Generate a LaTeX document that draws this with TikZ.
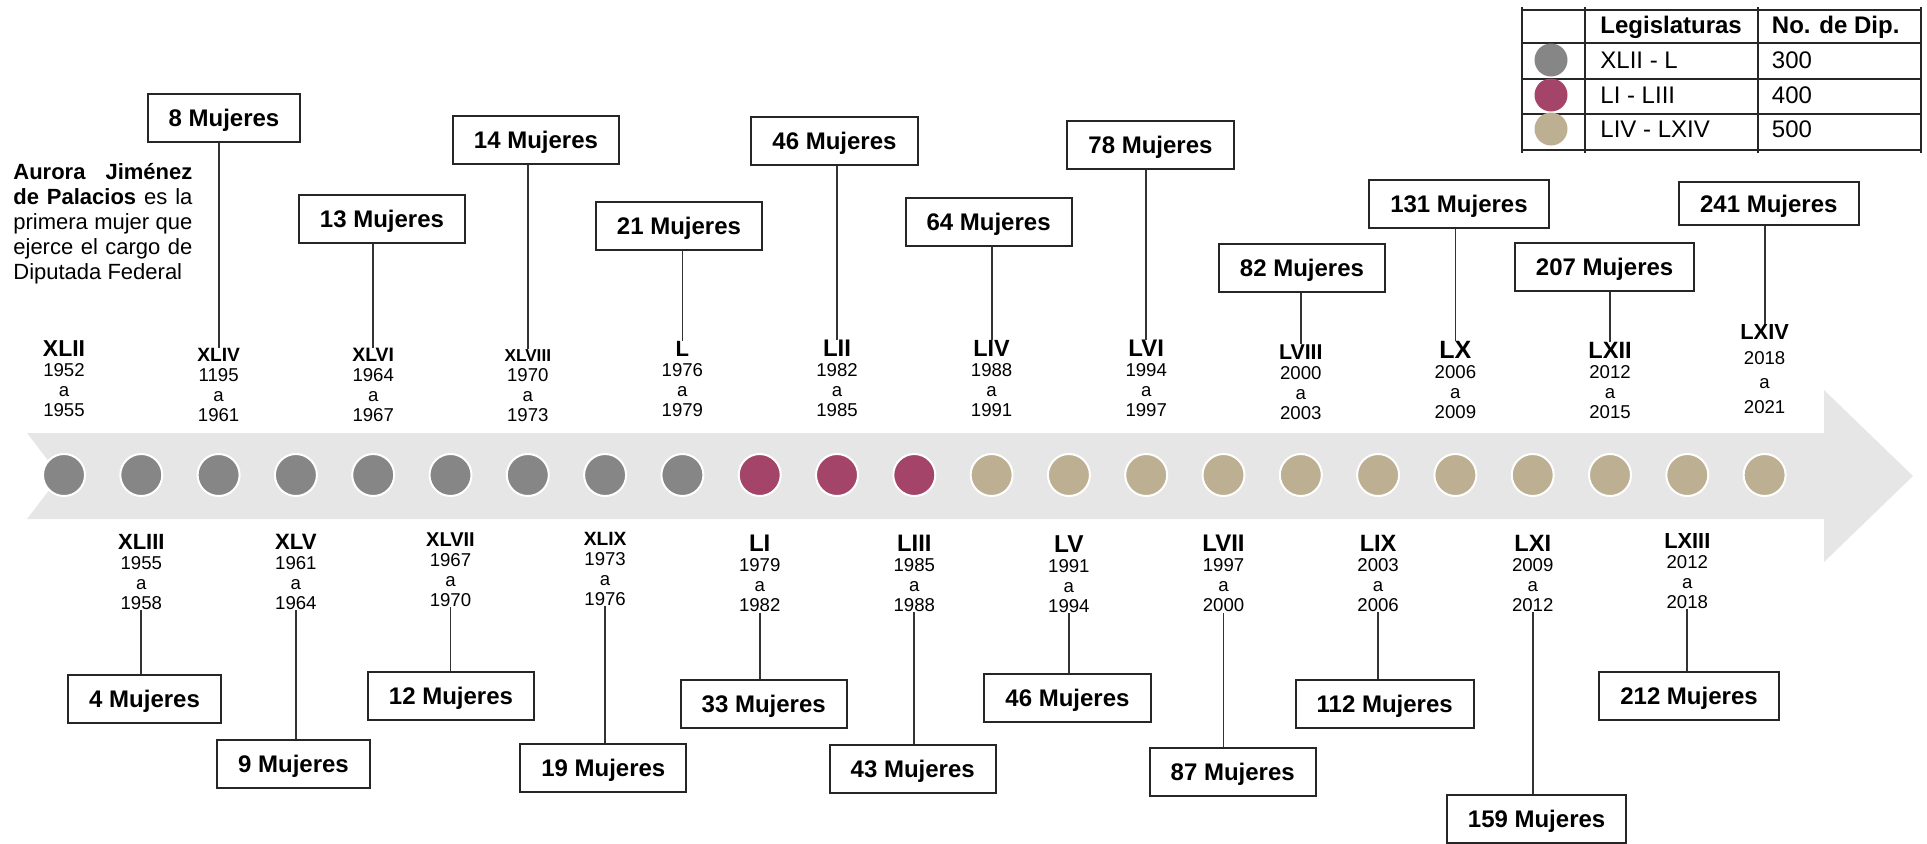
\documentclass[tikz,border=0pt]{standalone}
\usepackage{fontspec}
\setmainfont{Liberation Sans}
\usetikzlibrary{positioning}

\definecolor{bandgray}{HTML}{E6E6E6}
\definecolor{leggray}{HTML}{868686}
\definecolor{legmagenta}{HTML}{A34468}
\definecolor{legbeige}{HTML}{BCAF92}

\begin{document}
\begin{tikzpicture}[x=0.5pt, y=-0.5pt,
	legdot/.style={circle, draw=white, line width=1pt, minimum size=21pt, inner sep=0pt, outer sep=0pt},
	legyears/.style={align=center, inner sep=0pt, font=\fontsize{9.3}{10}\selectfont},
	mujeres/.style={rectangle, draw=black!85, line width=1pt, fill=white, minimum height=24pt, inner xsep=10.5pt, text height=8.6pt, text depth=0pt, font=\fontsize{12}{14}\selectfont\bfseries},
	legtext/.style={anchor=west, inner sep=0pt, text height=8.6pt, text depth=0pt, font=\fontsize{12}{14}\selectfont},
	legrule/.style={draw=black!85, line width=1pt},
	links/.style={draw=black!80, line width=0.9pt}]

		\useasboundingbox (0,0) rectangle (1927,843);

		% timeline band
		\fill[bandgray] (27,433) -- (1824,433) -- (1824,390) -- (1913,476) -- (1824,562) -- (1824,519) -- (27,519) -- (60,476) -- cycle;

		\node[legdot, fill=leggray] at (64,475) (c0) {};
		\node[legdot, fill=leggray, right=17.65pt of c0] (c1) {};
		\node[legdot, fill=leggray, right=17.65pt of c1] (c2) {};
		\node[legdot, fill=leggray, right=17.65pt of c2] (c3) {};
		\node[legdot, fill=leggray, right=17.65pt of c3] (c4) {};
		\node[legdot, fill=leggray, right=17.65pt of c4] (c5) {};
		\node[legdot, fill=leggray, right=17.65pt of c5] (c6) {};
		\node[legdot, fill=leggray, right=17.65pt of c6] (c7) {};
		\node[legdot, fill=leggray, right=17.65pt of c7] (c8) {};
		\node[legdot, fill=legmagenta, right=17.65pt of c8] (c9) {};
		\node[legdot, fill=legmagenta, right=17.65pt of c9] (c10) {};
		\node[legdot, fill=legmagenta, right=17.65pt of c10] (c11) {};
		\node[legdot, fill=legbeige, right=17.65pt of c11] (c12) {};
		\node[legdot, fill=legbeige, right=17.65pt of c12] (c13) {};
		\node[legdot, fill=legbeige, right=17.65pt of c13] (c14) {};
		\node[legdot, fill=legbeige, right=17.65pt of c14] (c15) {};
		\node[legdot, fill=legbeige, right=17.65pt of c15] (c16) {};
		\node[legdot, fill=legbeige, right=17.65pt of c16] (c17) {};
		\node[legdot, fill=legbeige, right=17.65pt of c17] (c18) {};
		\node[legdot, fill=legbeige, right=17.65pt of c18] (c19) {};
		\node[legdot, fill=legbeige, right=17.65pt of c19] (c20) {};
		\node[legdot, fill=legbeige, right=17.65pt of c20] (c21) {};
		\node[legdot, fill=legbeige, right=17.65pt of c21] (c22) {};

		% legislatures above the band
		\node[legyears, above=18.5pt of c0] (l0) {{\fontsize{11.5}{10}\selectfont\bfseries XLII}\\1952\\a\\1955};
		\node[legyears, above=16pt of c2] (l2) {{\fontsize{9.6}{10}\selectfont\bfseries XLIV}\\1195\\a\\1961};
		\node[legyears, above=16pt of c4] (l4) {{\fontsize{9.7}{10}\selectfont\bfseries XLVI}\\1964\\a\\1967};
		\node[legyears, above=16pt of c6] (l6) {{\fontsize{8.6}{10}\selectfont\bfseries XLVIII}\\1970\\a\\1973};
		\node[legyears, above=18.5pt of c8] (l8) {{\fontsize{11}{10}\selectfont\bfseries L}\\1976\\a\\1979};
		\node[legyears, above=18.5pt of c10] (l10) {{\fontsize{12}{10}\selectfont\bfseries LII}\\1982\\a\\1985};
		\node[legyears, above=18.5pt of c12] (l12) {{\fontsize{11.7}{10}\selectfont\bfseries LIV}\\1988\\a\\1991};
		\node[legyears, above=18.5pt of c14] (l14) {{\fontsize{12}{10}\selectfont\bfseries LVI}\\1994\\a\\1997};
		\node[legyears, above=17pt of c16] (l16) {{\fontsize{10.7}{10}\selectfont\bfseries LVIII}\\2000\\a\\2003};
		\node[legyears, above=17.5pt of c18] (l18) {{\fontsize{12.5}{10}\selectfont\bfseries LX}\\2006\\a\\2009};
		\node[legyears, above=17.5pt of c20] (l20) {{\fontsize{11.8}{10}\selectfont\bfseries LXII}\\2012\\a\\2015};
		\node[legyears, above=20pt of c22, font=\fontsize{9.3}{12.3}\selectfont] (l22) {{\fontsize{10.9}{12.3}\selectfont\bfseries LXIV}\\2018\\a\\2021};

		% legislatures below the band
		\node[legyears, below=19pt of c1] (l1) {{\fontsize{11}{10}\selectfont\bfseries XLIII}\\1955\\a\\1958};
		\node[legyears, below=19pt of c3] (l3) {{\fontsize{11.1}{10}\selectfont\bfseries XLV}\\1961\\a\\1964};
		\node[legyears, below=18pt of c5] (l5) {{\fontsize{10}{10}\selectfont\bfseries XLVII}\\1967\\a\\1970};
		\node[legyears, below=18pt of c7] (l7) {{\fontsize{9.6}{10}\selectfont\bfseries XLIX}\\1973\\a\\1976};
		\node[legyears, below=19.5pt of c9] (l9) {{\fontsize{12}{10}\selectfont\bfseries LI}\\1979\\a\\1982};
		\node[legyears, below=19.5pt of c11] (l11) {{\fontsize{11.9}{10}\selectfont\bfseries LIII}\\1985\\a\\1988};
		\node[legyears, below=19.5pt of c13] (l13) {{\fontsize{12.2}{10}\selectfont\bfseries LV}\\1991\\a\\1994};
		\node[legyears, below=19.5pt of c15] (l15) {{\fontsize{12}{10}\selectfont\bfseries LVII}\\1997\\a\\2000};
		\node[legyears, below=19.5pt of c17] (l17) {{\fontsize{11.8}{10}\selectfont\bfseries LIX}\\2003\\a\\2006};
		\node[legyears, below=19.5pt of c19] (l19) {{\fontsize{11.8}{10}\selectfont\bfseries LXI}\\2009\\a\\2012};
		\node[legyears, below=18.5pt of c21] (l21) {{\fontsize{10.9}{10}\selectfont\bfseries LXIII}\\2012\\a\\2018};

		% number of women
		\node[mujeres] at (224,118) (b2) {8 Mujeres};
		\node[mujeres] at (382,219) (b4) {13 Mujeres};
		\node[mujeres] at (536,140) (b6) {14 Mujeres};
		\node[mujeres] at (679,225.5) (b8) {21 Mujeres};
		\node[mujeres] at (834.5,141) (b10) {46 Mujeres};
		\node[mujeres] at (988.6,222) (b12) {64 Mujeres};
		\node[mujeres] at (1150.5,144.5) (b14) {78 Mujeres};
		\node[mujeres] at (1302,267.5) (b16) {82 Mujeres};
		\node[mujeres] at (1459,203.5) (b18) {131 Mujeres};
		\node[mujeres] at (1604.6,267) (b20) {207 Mujeres};
		\node[mujeres, minimum height=21.5pt] at (1768.8,203.7) (b22) {241 Mujeres};

		\node[mujeres] at (144.6,698.5) (b1) {4 Mujeres};
		\node[mujeres] at (293.5,764) (b3) {9 Mujeres};
		\node[mujeres] at (451,695.8) (b5) {12 Mujeres};
		\node[mujeres] at (603.3,767.5) (b7) {19 Mujeres};
		\node[mujeres] at (763.7,703.5) (b9) {33 Mujeres};
		\node[mujeres] at (912.7,769.2) (b11) {43 Mujeres};
		\node[mujeres] at (1067.5,697.5) (b13) {46 Mujeres};
		\node[mujeres] at (1232.7,771.8) (b15) {87 Mujeres};
		\node[mujeres] at (1384.7,703.5) (b17) {112 Mujeres};
		\node[mujeres] at (1536.6,819) (b19) {159 Mujeres};
		\node[mujeres] at (1689,695.8) (b21) {212 Mujeres};

		\draw[links] (l2.north) -- (l2.north |- b2.south);
		\draw[links] (l4.north) -- (l4.north |- b4.south);
		\draw[links] (l6.north) -- (l6.north |- b6.south);
		\draw[links] (l8.north) -- (l8.north |- b8.south);
		\draw[links] (l10.north) -- (l10.north |- b10.south);
		\draw[links] (l12.north) -- (l12.north |- b12.south);
		\draw[links] (l14.north) -- (l14.north |- b14.south);
		\draw[links] (l16.north) -- (l16.north |- b16.south);
		\draw[links] (l18.north) -- (l18.north |- b18.south);
		\draw[links] (l20.north) -- (l20.north |- b20.south);
		\draw[links] (l22.north) -- (l22.north |- b22.south);

		\draw[links] (l1.south) -- (l1.south |- b1.north);
		\draw[links] (l3.south) -- (l3.south |- b3.north);
		\draw[links] (l5.south) -- (l5.south |- b5.north);
		\draw[links] (l7.south) -- (l7.south |- b7.north);
		\draw[links] (l9.south) -- (l9.south |- b9.north);
		\draw[links] (l11.south) -- (l11.south |- b11.north);
		\draw[links] (l13.south) -- (l13.south |- b13.north);
		\draw[links] (l15.south) -- (l15.south |- b15.north);
		\draw[links] (l17.south) -- (l17.south |- b17.north);
		\draw[links] (l19.south) -- (l19.south |- b19.north);
		\draw[links] (l21.south) -- (l21.south |- b21.north);

		\node[anchor=north west, text width=89.5pt, align=justify, inner sep=0pt, font=\fontsize{11}{12.5}\selectfont] at (13,163) (aurora) {\textbf{Aurora Jiménez}\linebreak \textbf{de Palacios} es la\linebreak primera mujer que\linebreak ejerce el cargo de\linebreak Diputada Federal};

		% legend
		\draw[legrule] (1522,10) -- (1921,10);
		\draw[legrule] (1522,43) -- (1921,43);
		\draw[legrule] (1522,78.5) -- (1921,78.5);
		\draw[legrule] (1522,114) -- (1921,114);
		\draw[legrule] (1522,150) -- (1921,150);
		\draw[legrule] (1522,7) -- (1522,153);
		\draw[legrule] (1585,7) -- (1585,153);
		\draw[legrule] (1758,7) -- (1758,153);
		\draw[legrule] (1921,7) -- (1921,153);

		\node[legtext, font=\fontsize{12}{14}\selectfont\bfseries] at (1600,25) (hlegis) {Legislaturas};
		\node[legtext, font=\fontsize{12}{14}\selectfont\bfseries] at (1771.5,25) (hdip) {No. de Dip.};

		\node[legdot, draw=none, minimum size=16.5pt, fill=leggray] at (1551,60) (k1) {};
		\node[legdot, draw=none, minimum size=16.5pt, fill=legmagenta] at (1551,95) (k2) {};
		\node[legdot, draw=none, minimum size=16.5pt, fill=legbeige] at (1551,129) (k3) {};

		\node[legtext] at (1600,60) (g1) {XLII - L};
		\node[legtext] at (1600,95) (g2) {LI - LIII};
		\node[legtext] at (1600,129) (g3) {LIV - LXIV};
		\node[legtext] at (1771.5,60) (n1) {300};
		\node[legtext] at (1771.5,95) (n2) {400};
		\node[legtext] at (1771.5,129) (n3) {500};
	\end{tikzpicture}
\end{document}
